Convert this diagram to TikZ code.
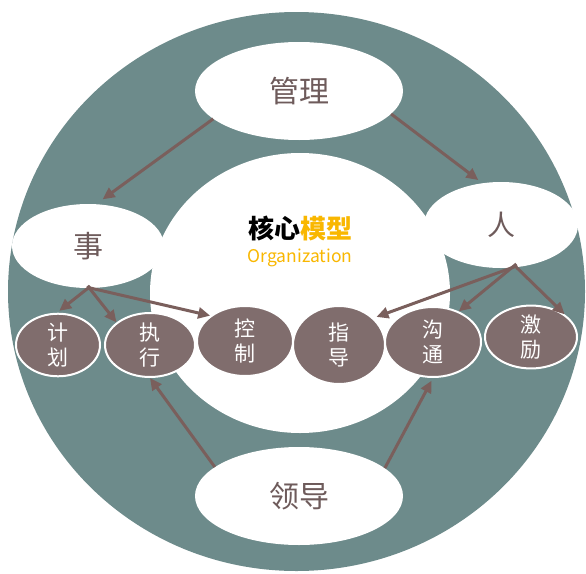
\documentclass[tikz,border=0pt]{standalone}
\usepackage{fontspec}
\setmainfont{Noto Sans CJK SC}
\definecolor{RingColor}{RGB}{109,139,139}
\definecolor{TaskColor}{RGB}{128,109,109}
\definecolor{ArrowColor}{RGB}{122,95,92}
\definecolor{LabelColor}{RGB}{110,91,91}
\definecolor{CoreColor}{RGB}{249,183,0}
\usepackage{tikz}
\usetikzlibrary{shapes.geometric, arrows.meta, positioning}
\tikzset{
  big oval/.style={ellipse, fill=white, inner sep=0pt, text=LabelColor, font=\fontsize{30}{34}\selectfont},
  task/.style={ellipse, fill=TaskColor, draw=white, line width=2pt, inner sep=0pt, text=white, align=center, font=\fontsize{21}{25}\selectfont},
  arr/.style={line width=3pt, ArrowColor, -{Triangle[length=12pt,width=11pt]}}
}

\begin{document}
\begin{tikzpicture}[x=1pt, y=-1pt]
    \useasboundingbox (0,0) rectangle (586,573);

    % Ring and inner disc
    \fill[RingColor] (296.5,291.5) ellipse [x radius=288.5, y radius=279.5];
    \fill[white] (300,293) ellipse [x radius=150, y radius=140];

    % Centre title
    \node[font=\fontsize{26}{30}\selectfont\bfseries] (core) at (300,228) {核心\textcolor{CoreColor}{模型}};
    \node[font=\fontsize{17.5}{20}\selectfont, text=CoreColor] (org) at (300,258) {Organization};

    % Main ovals
    \node[big oval, minimum width=208, minimum height=98] (guanli) at (299,91) {管理};
    \node[big oval, minimum width=208, minimum height=98] (lingdao) at (299,496) {领导};
    \node[big oval, minimum width=152, minimum height=84] (shi) at (88,246) {事};
    \node[big oval, minimum width=154, minimum height=86, font=\fontsize{28}{32}\selectfont] (ren) at (501,225) {人};

    % Task ovals
    \node[task, minimum width=84, minimum height=60] (jihua) at (58,345) {计\\划};
    \node[task, minimum width=90, minimum height=64] (zhixing) at (150,345) {执\\行};
    \node[task, minimum width=96, minimum height=70] (kongzhi) at (245,341) {控\\制};
    \node[task, minimum width=92, minimum height=78] (zhidao) at (339,345) {指\\导};
    \node[task, minimum width=96, minimum height=70] (goutong) at (433,342) {沟\\通};
    \node[task, minimum width=92, minimum height=60] (jili) at (531,337) {激\\励};

    % Arrows from the top oval
    \draw[arr, shorten >=8pt] (guanli.198) -- (shi.79);
    \draw[arr, shorten >=5pt] (guanli.346) -- (ren.114);

    % Arrows from the task side
    \draw[arr, shorten <=-3pt, shorten >=3pt] (shi.270) -- (jihua.92);
    \draw[arr, shorten <=-3pt] (shi.272) -- (zhixing.146);
    \draw[arr, shorten <=-3pt] (shi.274) -- (kongzhi.144);

    % Arrows from the people side
    \draw[arr, shorten <=-6pt, shorten >=3pt] (ren.284) -- (zhidao.38);
    \draw[arr, shorten <=-6pt] (ren.284) -- (goutong.50);
    \draw[arr] (ren.290) -- (jili.34);

    % Arrows from the bottom oval
    \draw[arr] (lingdao.161) -- (zhixing.south);
    \draw[arr, shorten >=3pt] (lingdao.18) -- (goutong.south);
\end{tikzpicture}
\end{document}
